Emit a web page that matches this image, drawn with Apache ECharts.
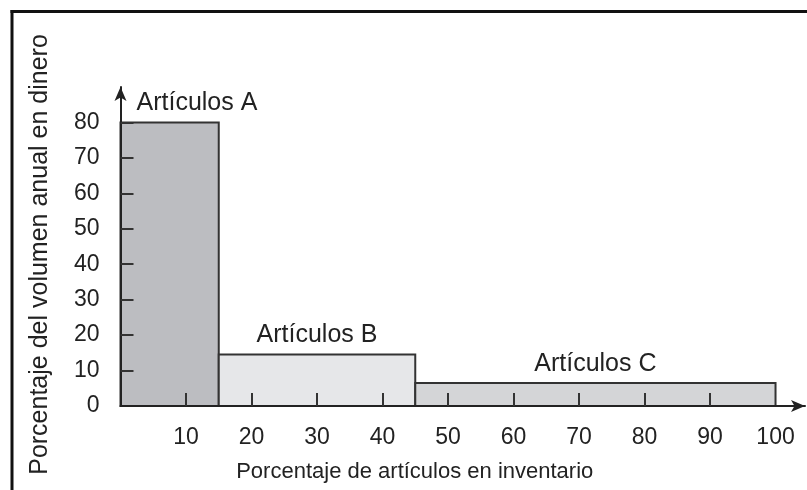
<!DOCTYPE html>
<html>
<head>
<meta charset="utf-8">
<script src="https://cdn.jsdelivr.net/npm/echarts@6/dist/echarts.min.js"></script>
<style>
  html, body { margin: 0; padding: 0; background: #fff; }
  #chart { width: 807px; height: 490px; }
</style>
</head>
<body>
<div id="chart"></div>
<script>
// ABC classes: share of items (x range) vs share of annual money volume
var classNames = ["Artículos A", "Artículos B", "Artículos C"];
var rangeStart = [0, 15, 45];
var rangeEnd = [15, 45, 100];
var volumeShare = [80, 14.5, 6.5];

var xTickValues = [10, 20, 30, 40, 50, 60, 70, 80, 90];
var xLabelValues = [10, 20, 30, 40, 50, 60, 70, 80, 90, 100];
var yTickValues = [10, 20, 30, 40, 50, 60, 70, 80];
var yLabelValues = [0, 10, 20, 30, 40, 50, 60, 70, 80];

var fills = ["#bcbdc1", "#e6e7e9", "#d4d5d7"];
var fontFamily = "'Liberation Sans', Arial, sans-serif";

var chart = echarts.init(document.getElementById("chart"));

var data = classNames.map(function (name, i) {
  return [rangeStart[i], rangeEnd[i], volumeShare[i], name];
});

chart.setOption({
  animation: false,
  backgroundColor: "#fff",
  grid: {
    left: 120.5,
    right: 2,
    top: 87,
    bottom: 84,
    outerBoundsMode: "none",
  },
  graphic: [
    // photo frame (top + left edges)
    { type: "rect", shape: { x: 10.5, y: 10, width: 800, height: 3 }, style: { fill: "#111" }, z: 100 },
    { type: "rect", shape: { x: 10.5, y: 10, width: 3, height: 490 }, style: { fill: "#111" }, z: 100 },
  ],
  xAxis: {
    type: "value",
    min: 0,
    max: 104.5,
    interval: 10,
    z: 10,
    splitLine: { show: false },
    axisLine: {
      lineStyle: { color: "#222", width: 2 },
      symbol: ["none", "arrow"],
      symbolSize: [9, 14],
    },
    axisTick: {
      inside: true,
      length: 13,
      customValues: xTickValues,
      lineStyle: { color: "#333", width: 2 },
    },
    axisLabel: {
      customValues: xLabelValues,
      margin: 20,
      color: "#222",
      fontSize: 23,
      fontFamily: fontFamily,
    },
    name: "Porcentaje de artículos en inventario",
    nameLocation: "middle",
    nameGap: 55,
    nameTextStyle: {
      color: "#222",
      fontSize: 22,
      fontFamily: fontFamily,
      verticalAlign: "top",
      padding: [0, 96, 0, 0],
    },
  },
  yAxis: {
    type: "value",
    min: 0,
    max: 90,
    interval: 10,
    z: 10,
    splitLine: { show: false },
    axisLine: {
      show: true,
      lineStyle: { color: "#222", width: 2 },
      symbol: ["none", "arrow"],
      symbolSize: [9, 14],
    },
    axisTick: {
      show: true,
      inside: true,
      length: 13,
      customValues: yTickValues,
      lineStyle: { color: "#333", width: 2 },
    },
    axisLabel: {
      customValues: yLabelValues,
      margin: 21,
      color: "#222",
      fontSize: 23,
      fontFamily: fontFamily,
    },
    name: "Porcentaje del volumen anual en dinero",
    nameLocation: "middle",
    nameGap: 68,
    nameTextStyle: {
      color: "#222",
      fontSize: 25,
      fontFamily: fontFamily,
      padding: [0, 16, 0, 0],
    },
  },
  series: [
    {
      type: "custom",
      encode: { x: [0, 1], y: 2 },
      data: data,
      renderItem: function (params, api) {
        var i = params.dataIndex;
        var topLeft = api.coord([api.value(0), api.value(2)]);
        var bottomRight = api.coord([api.value(1), 0]);
        var isFirst = i === 0;
        return {
          type: "group",
          children: [
            {
              type: "rect",
              shape: {
                x: topLeft[0],
                y: topLeft[1],
                width: bottomRight[0] - topLeft[0],
                height: bottomRight[1] - topLeft[1],
              },
              style: { fill: fills[i], stroke: "#333", lineWidth: 2 },
            },
            {
              type: "text",
              x: isFirst ? topLeft[0] + 16 : (topLeft[0] + bottomRight[0]) / 2,
              y: topLeft[1] - 19,
              style: {
                text: classNames[i],
                fill: "#222",
                fontSize: 25,
                fontFamily: fontFamily,
                align: isFirst ? "left" : "center",
                verticalAlign: "middle",
              },
            },
          ],
        };
      },
    },
  ],
});
</script>
</body>
</html>
